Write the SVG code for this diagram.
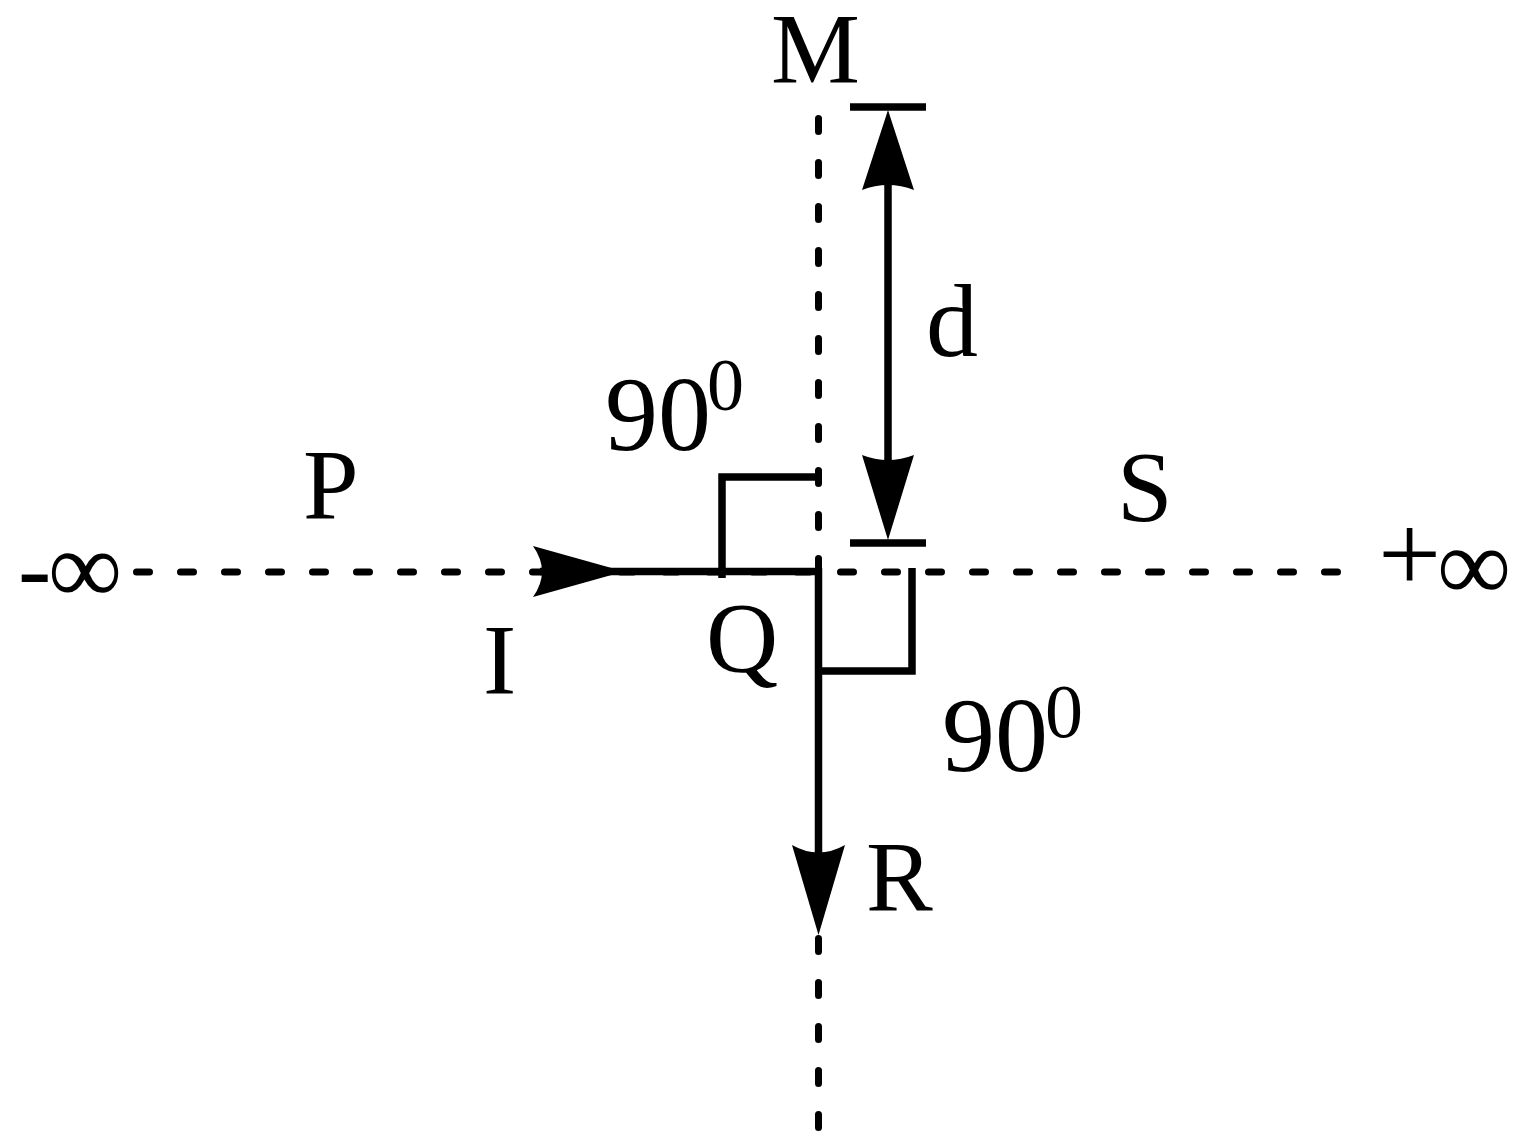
<svg xmlns="http://www.w3.org/2000/svg" width="1526" height="1145" viewBox="0 0 1526 1145">
<style>
.t{font-family:"Liberation Serif","Times New Roman",serif;fill:#000}
.dash{fill:none;stroke:#000;stroke-width:7;stroke-dasharray:13 31;stroke-linecap:round}
.ln{fill:none;stroke:#000;stroke-width:7.5}
.ah{fill:#000;stroke:none}
</style>
<rect width="1526" height="1145" fill="#fff"/>
<g id="connectors">
<path class="dash" d="M136.5 572 H1341"/>
<path class="dash" d="M818.5 118.5 V580"/>
<path class="dash" d="M818.5 938.5 V1131"/>
<path class="ln" d="M540 571.5 H818.5"/>
<path class="ah" d="M624 571.5 L533 546 Q551 571.5 533 597 Z"/>
<path class="ln" d="M818.5 568 V855"/>
<path class="ah" d="M818.5 935 L792 845 Q818.5 860 845 845 Z"/>
<path class="ln" d="M722 578 V477 H815"/>
<path class="ln" d="M818.5 671 H912 V568"/>
<path class="ln" d="M850 107 H926"/>
<path class="ln" d="M850 543 H926"/>
<path class="ln" d="M888 185 V460"/>
<path class="ah" d="M888 110 L862 190 Q888 180 914 190 Z"/>
<path class="ah" d="M888 540 L862 455 Q888 465 914 455 Z"/>
</g>
<g id="label-M"><text class="t" x="771" y="82" font-size="100">M</text></g>
<g id="label-d"><text class="t" x="926" y="356" font-size="104">d</text></g>
<g id="label-P"><text class="t" x="303" y="518" font-size="100">P</text></g>
<g id="label-S"><text class="t" x="1117" y="520" font-size="100">S</text></g>
<g id="label-I"><text class="t" x="483" y="693" font-size="100">I</text></g>
<g id="label-Q"><text class="t" x="706" y="671" font-size="100">Q</text></g>
<g id="label-R"><text class="t" x="866" y="910" font-size="100">R</text></g>
<g id="angle-top"><text class="t" x="605" y="450" font-size="106">90</text><text class="t" x="707" y="410" font-size="74">0</text></g>
<g id="angle-bottom"><text class="t" x="942" y="771" font-size="106">90</text><text class="t" x="1045" y="737" font-size="76">0</text></g>
<g id="minus-inf"><text class="t" x="18" y="602" font-size="100">-</text><text class="t" x="48" y="603" font-size="104">∞</text></g>
<g id="plus-inf"><text class="t" x="1378" y="592" font-size="112">+</text><text class="t" x="1437" y="600" font-size="104">∞</text></g>
</svg>
